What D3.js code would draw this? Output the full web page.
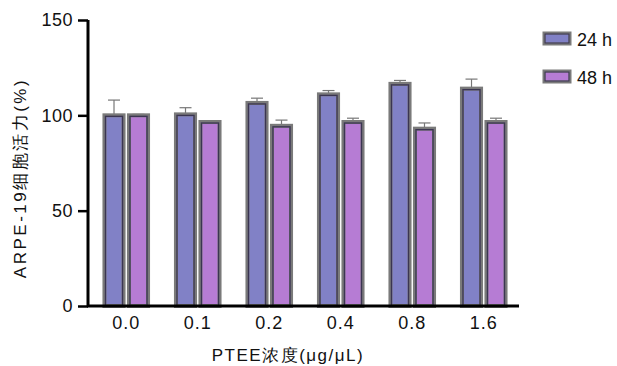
<!DOCTYPE html>
<html>
<head>
<meta charset="utf-8">
<script src="https://cdn.jsdelivr.net/npm/d3@7"></script>
<style>
  body { margin: 0; background: #fff; }
  text { font-family: "Liberation Sans", Arial, sans-serif; fill: #111; }
</style>
</head>
<body>
<div id="chart"></div>
<script>
(function(){
  // data
  const doses = ["0.0", "0.1", "0.2", "0.4", "0.8", "1.6"];
  const series = ["24 h", "48 h"];
  const mean24 = [100, 100.5, 106.5, 111, 116.5, 114];
  const err24 = [8, 3.5, 2.5, 2, 1.8, 5];
  const mean48 = [100, 96.5, 94.5, 96.5, 93, 96.5];
  const err48 = [0.5, 0.5, 3, 2, 3, 2];
  const yTicks = [0, 50, 100, 150];

  const fills = ["#8181c6", "#b67cd4"];
  const width = 617, height = 366;

  const svg = d3.select("#chart").append("svg")
    .attr("width", width).attr("height", height);

  const x = d3.scaleBand().domain(doses).range([90.5, 519.5]);
  const xs = d3.scaleBand().domain(series).range([0, x.bandwidth()]).paddingInner(0.22).paddingOuter(0.57);
  const y = d3.scaleLinear().domain([0, 150]).range([306, 20]);

  const rows = doses.map((d, i) => ({
    dose: d,
    vals: [
      { s: series[0], m: mean24[i], e: err24[i], c: fills[0] },
      { s: series[1], m: mean48[i], e: err48[i], c: fills[1] }
    ]
  }));

  const g = svg.append("g");
  const groups = g.selectAll("g.grp").data(rows).join("g")
    .attr("transform", d => `translate(${x(d.dose)},0)`);

  const bars = groups.selectAll("g.bar").data(d => d.vals).join("g");

  // error bars (upper only)
  bars.append("line")
    .attr("x1", d => xs(d.s) + xs.bandwidth() / 2)
    .attr("x2", d => xs(d.s) + xs.bandwidth() / 2)
    .attr("y1", d => y(d.m)).attr("y2", d => y(d.m + d.e))
    .attr("stroke", "#777").attr("stroke-width", 1.2);
  bars.append("line")
    .attr("x1", d => xs(d.s) + xs.bandwidth() / 2 - 6)
    .attr("x2", d => xs(d.s) + xs.bandwidth() / 2 + 6)
    .attr("y1", d => y(d.m + d.e)).attr("y2", d => y(d.m + d.e))
    .attr("stroke", "#777").attr("stroke-width", 1.2);

  bars.append("rect")
    .attr("x", d => xs(d.s))
    .attr("width", xs.bandwidth())
    .attr("y", d => y(d.m))
    .attr("height", d => y(0) - y(d.m))
    .attr("fill", d => d.c)
    .attr("stroke", "#7a7a7a").attr("stroke-width", 4);
  bars.append("rect")
    .attr("x", d => xs(d.s) + 1)
    .attr("width", xs.bandwidth() - 2)
    .attr("y", d => y(d.m) + 1)
    .attr("height", d => y(0) - y(d.m) - 1)
    .attr("fill", "none")
    .attr("stroke", "#3b3552").attr("stroke-width", 1.3);

  // axes
  const yAxis = svg.append("g")
    .attr("transform", "translate(88,0)")
    .call(d3.axisLeft(y).tickValues(yTicks).tickSize(10).tickPadding(5));
  yAxis.select(".domain").attr("stroke", "#000").attr("stroke-width", 3)
    .attr("d", `M0,${y(150)}V${y(0)}`);
  yAxis.selectAll(".tick line").attr("stroke", "#000").attr("stroke-width", 2.5);
  yAxis.selectAll(".tick text").style("font-size", "18px").style("letter-spacing", "0.5px").attr("fill", "#111");

  const xAxis = svg.append("g")
    .attr("transform", `translate(0,${y(0)})`)
    .call(d3.axisBottom(x).tickSize(0).tickPadding(10));
  xAxis.select(".domain").attr("stroke", "#000").attr("stroke-width", 3)
    .attr("d", `M87,0H519`);
  xAxis.selectAll(".tick text").style("font-size", "18px").style("letter-spacing", "1px").attr("fill", "#111");

  svg.append("text")
    .attr("x", 288).attr("y", 361)
    .attr("text-anchor", "middle")
    .style("font-size", "17px")
    .style("letter-spacing", "1.5px")
    .text("PTEE浓度(μg/μL)");

  svg.append("text")
    .attr("transform", "translate(26,178) rotate(-90)")
    .attr("text-anchor", "middle")
    .style("font-size", "17px")
    .style("letter-spacing", "2.5px")
    .text("ARPE-19细胞活力(%)");

  // legend
  const leg = svg.append("g").selectAll("g").data(series).join("g")
    .attr("transform", (d, i) => `translate(544,${33 + i * 38})`);
  leg.append("rect")
    .attr("width", 26).attr("height", 11)
    .attr("fill", (d, i) => fills[i])
    .attr("stroke", "#7a7a7a").attr("stroke-width", 3);
  leg.append("rect")
    .attr("x", 1).attr("y", 1).attr("width", 24).attr("height", 9)
    .attr("fill", "none").attr("stroke", "#3b3552").attr("stroke-width", 1);
  leg.append("text")
    .attr("x", 33).attr("y", 13)
    .style("font-size", "18px")
    .text(d => d);
})();
</script>
</body>
</html>
